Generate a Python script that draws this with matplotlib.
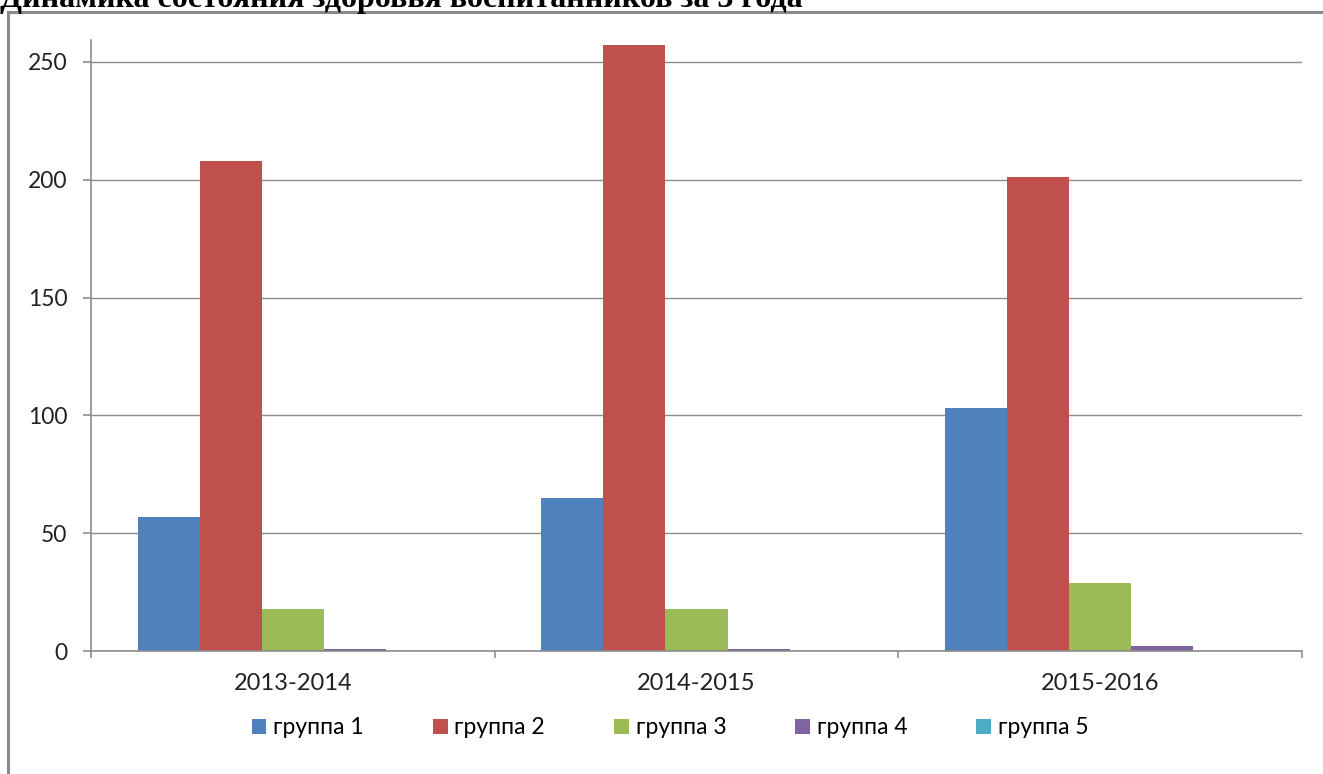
import matplotlib
matplotlib.use("Agg")
import matplotlib.pyplot as plt
from matplotlib.patches import Patch
from matplotlib.lines import Line2D
import numpy as np

title = "Динамика состояния здоровья воспитанников за 3 года"
categories = ["2013-2014", "2014-2015", "2015-2016"]
series_names = ["группа 1", "группа 2", "группа 3", "группа 4", "группа 5"]
group1 = [57, 65, 103]
group2 = [208, 257, 201]
group3 = [18, 18, 29]
group4 = [1, 1, 2]
group5 = [0, 0, 0]
colors = ["#4F81BD", "#C0504D", "#9BBB59", "#8064A2", "#4BACC6"]
yticks = [0, 50, 100, 150, 200, 250]

W, H = 1323, 774
fig = plt.figure(figsize=(W / 100, H / 100), dpi=100)
fig.patch.set_facecolor("white")

# outer frame (partially visible)
fig.add_artist(Line2D([8 / W, 8 / W], [0, 1 - 12 / H], transform=fig.transFigure,
                      color="#8a8a8a", lw=2.2))
fig.add_artist(Line2D([8 / W, 1], [1 - 12 / H, 1 - 12 / H], transform=fig.transFigure,
                      color="#8a8a8a", lw=2.2))

# title cut off at top (as in the reference)
fig.text(0.0, 1 - 7 / H, title, ha="left", va="baseline",
         fontsize=23, fontweight="bold", family="Liberation Serif", color="black")

ax = fig.add_axes([91 / W, 123 / H, (1302 - 91) / W, (651 - 40) / H])
series = [group1, group2, group3, group4, group5]
n = len(series)
bw = 1.0 / (n + 1.5)
x = np.arange(len(categories))
for i, (vals, c, name) in enumerate(zip(series, colors, series_names)):
    ax.bar(x - (n / 2) * bw + (i + 0.5) * bw, vals, width=bw, color=c, label=name,
           edgecolor="none")

ax.set_xlim(-0.5, len(categories) - 0.5)
ax.set_ylim(0, 259.3)
ax.set_yticks(yticks)
ax.yaxis.grid(True, color="#8c8c8c", lw=1)
ax.set_axisbelow(True)
for s in ["top", "right"]:
    ax.spines[s].set_visible(False)
ax.spines["left"].set_color("#8c8c8c")
ax.spines["bottom"].set_color("#8c8c8c")
ax.spines["left"].set_linewidth(1.2)
ax.spines["bottom"].set_linewidth(1.2)

ax.set_xticks(np.arange(len(categories) + 1) - 0.5)
ax.set_xticklabels([])
ax.tick_params(axis="x", which="major", direction="out", length=5, color="#8c8c8c", width=1.2)
ax.set_xticks(x, minor=True)
ax.set_xticklabels(categories, minor=True, fontsize=17, family="Lato", color="#222222")
ax.tick_params(axis="x", which="minor", length=0, pad=16)
ax.tick_params(axis="y", direction="out", length=6, color="#8c8c8c", width=1.2,
               labelsize=16.5, labelcolor="#222222", pad=11)
for t in ax.get_yticklabels():
    t.set_family("Lato")

handles = [Patch(facecolor=c, edgecolor="none") for c in colors]
fig.legend(handles, series_names, loc="center", bbox_to_anchor=(670 / W, 1 - 728 / H),
           ncol=5, frameon=False, prop={"family": "Lato", "size": 16.5},
           handlelength=0.65, handleheight=0.65, handletextpad=0.3, columnspacing=3.0)

fig.savefig("out.png", dpi=100, facecolor="white")
